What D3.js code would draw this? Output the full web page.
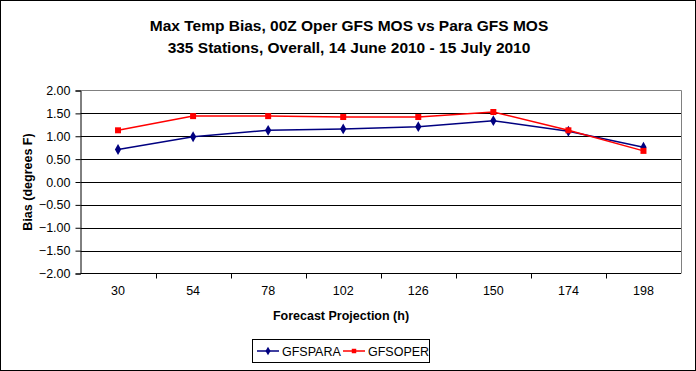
<!DOCTYPE html>
<html>
<head>
<meta charset="utf-8">
<script src="https://cdn.jsdelivr.net/npm/d3@7"></script>
<style>
  body { margin: 0; background: #fff; }
  svg { display: block; font-family: "Liberation Sans", Arial, sans-serif; }
</style>
</head>
<body>
<svg id="chart"></svg>
<script>
var categories = ["30", "54", "78", "102", "126", "150", "174", "198"];
var gfsPara = [0.71, 0.99, 1.13, 1.16, 1.21, 1.34, 1.11, 0.76];
var gfsOper = [1.13, 1.44, 1.44, 1.42, 1.42, 1.53, 1.13, 0.68];
var yTicks = [2, 1.5, 1, 0.5, 0, -0.5, -1, -1.5, -2];

var svgWidth = 696;
var svgHeight = 371;
var plot = { left: 80.5, right: 681, top: 90.5, bottom: 273.5 };

var svg = d3.select("#chart")
  .attr("width", svgWidth)
  .attr("height", svgHeight);

// outer border
svg.append("rect")
  .attr("x", 0.5).attr("y", 0.5)
  .attr("width", svgWidth - 1).attr("height", svgHeight - 1)
  .attr("fill", "#fff").attr("stroke", "#000");

// titles
svg.append("text")
  .attr("x", 349).attr("y", 31)
  .attr("text-anchor", "middle")
  .attr("font-size", 15.5).attr("font-weight", "bold")
  .text("Max Temp Bias, 00Z Oper GFS MOS vs Para GFS MOS");
svg.append("text")
  .attr("x", 349).attr("y", 53)
  .attr("text-anchor", "middle")
  .attr("font-size", 15.5).attr("font-weight", "bold")
  .text("335 Stations, Overall, 14 June 2010 - 15 July 2010");

var x = d3.scaleBand()
  .domain(categories)
  .range([plot.left, plot.right]);

var y = d3.scaleLinear()
  .domain([-2, 2])
  .range([plot.bottom, plot.top]);

// plot area border (grey top/right)
svg.append("path")
  .attr("d", "M" + plot.left + "," + plot.top + "H" + (plot.right + 0.5) + "V" + plot.bottom)
  .attr("fill", "none").attr("stroke", "#808080");

// gridlines
svg.append("g")
  .selectAll("line")
  .data(yTicks.filter(function(d) { return d > -2 && d < 2; }))
  .enter()
  .append("line")
  .attr("x1", plot.left).attr("x2", plot.right)
  .attr("y1", function(d) { return Math.round(y(d)) + 0.5; })
  .attr("y2", function(d) { return Math.round(y(d)) + 0.5; })
  .attr("stroke", "#000");

// y axis
var yAxis = svg.append("g")
  .attr("transform", "translate(" + plot.left + ",0)")
  .call(d3.axisLeft(y).tickValues(yTicks).tickSize(5).tickPadding(5)
    .tickFormat(d3.format(".2f")));
yAxis.selectAll("text").attr("font-size", 12.5).attr("font-family", null);
yAxis.selectAll("line,path").attr("stroke", "#000");

// x axis
var xAxis = svg.append("g")
  .attr("transform", "translate(0," + plot.bottom + ")")
  .call(d3.axisBottom(x).tickSize(0).tickPadding(13));
xAxis.select("path").attr("d", "M" + plot.left + ",0H" + plot.right).attr("stroke", "#000");
xAxis.selectAll("text").attr("font-size", 12.5).attr("font-family", null);
// ticks on category boundaries
svg.append("g")
  .selectAll("line")
  .data(categories.slice(1))
  .enter()
  .append("line")
  .attr("x1", function(d) { return Math.round(x(d)) + 0.5; })
  .attr("x2", function(d) { return Math.round(x(d)) + 0.5; })
  .attr("y1", plot.bottom).attr("y2", plot.bottom + 5)
  .attr("stroke", "#000");

// axis titles
svg.append("text")
  .attr("transform", "translate(32," + ((plot.top + plot.bottom) / 2) + ") rotate(-90)")
  .attr("text-anchor", "middle")
  .attr("font-size", 12.5).attr("font-weight", "bold")
  .text("Bias (degrees F)");
svg.append("text")
  .attr("x", 341).attr("y", 320)
  .attr("text-anchor", "middle")
  .attr("font-size", 12.5).attr("font-weight", "bold")
  .text("Forecast Projection (h)");

var line = d3.line()
  .x(function(d, i) { return x(categories[i]) + x.bandwidth() / 2; })
  .y(function(d) { return y(d); });

var series = [
  { name: "GFSPARA", values: gfsPara, color: "#000080", symbol: d3.symbolDiamond, size: 34 },
  { name: "GFSOPER", values: gfsOper, color: "#ff0000", symbol: d3.symbolSquare, size: 36 }
];

series.forEach(function(s) {
  svg.append("path")
    .datum(s.values)
    .attr("d", line)
    .attr("fill", "none")
    .attr("stroke", s.color)
    .attr("stroke-width", 1.5);
  svg.append("g")
    .selectAll("path")
    .data(s.values)
    .enter()
    .append("path")
    .attr("d", d3.symbol().type(s.symbol).size(s.size))
    .attr("fill", s.color)
    .attr("transform", function(d, i) {
      return "translate(" + (x(categories[i]) + x.bandwidth() / 2) + "," + y(d) + ")";
    });
});

// legend
var legend = svg.append("g");
legend.append("rect")
  .attr("x", 252.5).attr("y", 339.5)
  .attr("width", 177).attr("height", 23)
  .attr("fill", "#fff").attr("stroke", "#000");

var legendX = [257, 343];
series.forEach(function(s, i) {
  var lx = legendX[i];
  legend.append("line")
    .attr("x1", lx).attr("x2", lx + 22)
    .attr("y1", 351).attr("y2", 351)
    .attr("stroke", s.color).attr("stroke-width", 1.5);
  legend.append("path")
    .attr("d", d3.symbol().type(s.symbol).size(i === 0 ? 22 : 20))
    .attr("fill", s.color)
    .attr("transform", "translate(" + (lx + 11) + ",351)");
  legend.append("text")
    .attr("x", lx + 25).attr("y", 355.5)
    .attr("font-size", 12.5)
    .text(s.name);
});
</script>
</body>
</html>
